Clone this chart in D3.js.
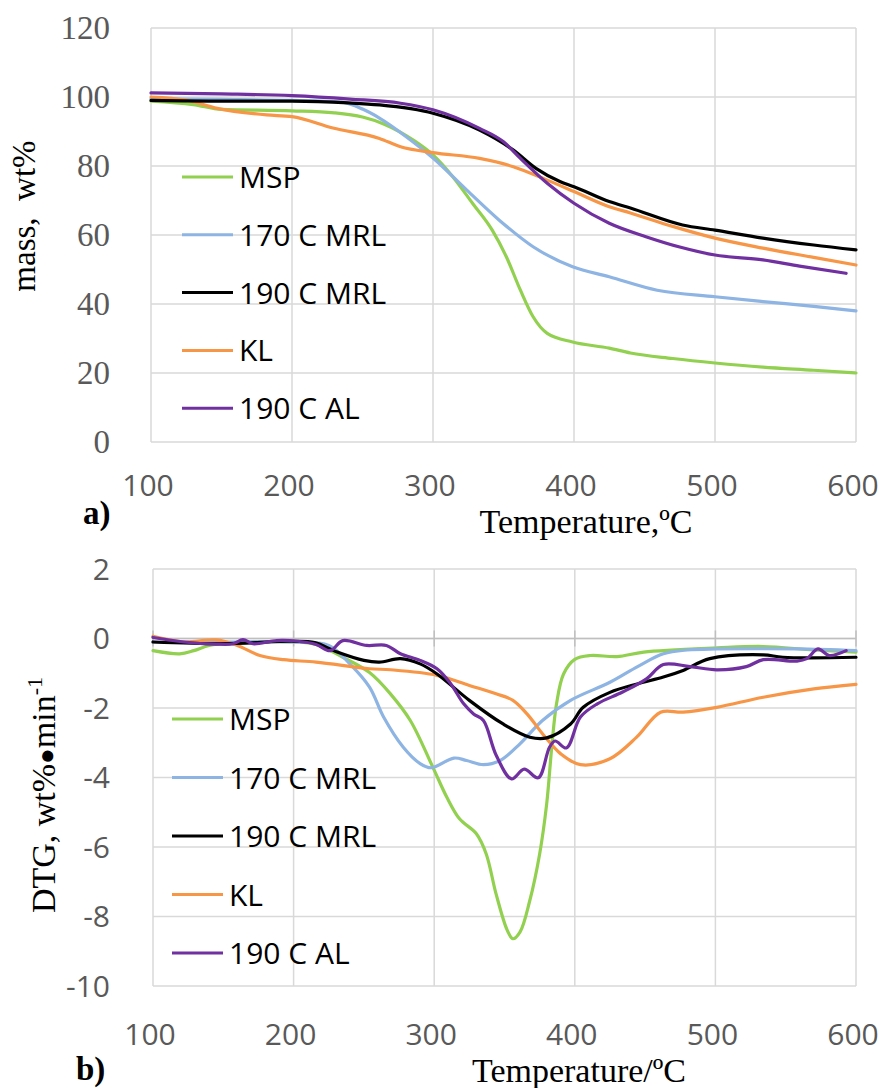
<!DOCTYPE html>
<html>
<head>
<meta charset="utf-8">
<script src="https://cdn.jsdelivr.net/npm/d3@7"></script>
<style>
  html, body { margin: 0; padding: 0; background: #fff; }
  svg { display: block; }
</style>
</head>
<body>
<svg id="chart" width="884" height="1088"></svg>
<script>
// ---------- DATA ----------
const seriesNames = ["MSP", "170 C MRL", "190 C MRL", "KL", "190 C AL"];
const seriesColors = ["#92d050", "#8db4e2", "#000000", "#f79646", "#7030a0"];

const xTicks = [100, 200, 300, 400, 500, 600];
const massTicks = [0, 20, 40, 60, 80, 100, 120];
const dtgTicks = [-10, -8, -6, -4, -2, 0, 2];

// (a) mass, wt% vs temperature  [T, value]
const massMSP = [[100,98.8],[130,97.8],[150,96.4],[200,96],[230,95.4],[250,94.2],[265,92.2],[286,87.5],[300,83.2],[314,76.9],[328,69.2],[342,61.4],[352,53.7],[362,44],[371,36.3],[381,31.5],[399,29],[425,27.2],[440,25.8],[470,24.2],[500,22.9],[534,21.7],[570,20.8],[600,20]];
const mass170MRL = [[100,99.5],[150,99.3],[200,99],[235,98.5],[250,96.5],[262,93.9],[281,88.5],[300,82.3],[324,73],[347,64.3],[371,56.6],[399,50.8],[425,47.9],[459,44],[500,42.1],[534,40.7],[570,39.3],[600,38]];
const mass190MRL = [[100,99],[150,98.8],[200,98.8],[240,98.3],[262,97.7],[300,95.3],[333,90.4],[357,84.6],[373,79.3],[390,75.5],[400,74],[425,69.7],[440,67.8],[477,62.9],[500,61.4],[534,59.1],[570,57.1],[600,55.7]];
const massKL = [[100,100],[125,99.1],[147,96.7],[182,94.8],[200,94.3],[229,91],[262,88],[277,85.6],[300,83.9],[333,82.2],[357,79.8],[381,75.9],[400,72.6],[425,68.2],[440,66.4],[470,62.5],[500,59.1],[534,56.2],[570,53.5],[600,51.3]];
const mass190AL = [[100,101.2],[150,100.9],[200,100.4],[241,99.4],[277,98.2],[300,96.3],[333,90.9],[350,87],[362,82.2],[381,75],[400,69.2],[425,63.4],[451,59.5],[475,56.5],[500,54.2],[534,52.8],[560,51],[593,48.9]];

// (b) DTG, wt%/min vs temperature  [T, value]
const dtgMSP = [[100,-0.35],[119,-0.44],[129,-0.35],[140,-0.2],[158,-0.13],[200,-0.1],[216,-0.17],[235,-0.54],[254,-0.98],[269,-1.6],[283,-2.36],[299,-3.7],[309,-4.57],[318,-5.19],[330,-5.62],[337,-6.2],[344,-7.35],[352,-8.4],[356,-8.64],[361,-8.45],[368,-7.54],[375,-6.2],[380,-4.76],[383.6,-3.13],[387,-1.88],[392,-1.02],[400,-0.6],[411,-0.49],[430,-0.52],[449,-0.39],[501,-0.27],[534,-0.23],[570,-0.33],[600,-0.39]];
const dtg170MRL = [[100,-0.1],[150,-0.1],[200,-0.1],[225,-0.2],[240,-0.73],[254,-1.4],[264,-2.26],[278,-3.13],[290,-3.6],[298,-3.72],[314,-3.44],[323,-3.51],[335,-3.63],[347,-3.51],[361,-3.03],[377,-2.36],[397,-1.78],[425,-1.26],[445,-0.8],[463,-0.44],[480,-0.33],[501,-0.3],[558,-0.3],[600,-0.35]];
const dtg190MRL = [[100,-0.1],[150,-0.15],[200,-0.08],[215,-0.12],[231,-0.39],[250,-0.63],[261,-0.68],[276,-0.58],[290,-0.73],[302,-1.02],[325,-1.78],[349,-2.46],[368,-2.84],[380,-2.86],[397,-2.46],[406,-1.98],[425,-1.55],[445,-1.3],[463,-1.11],[477,-0.92],[496,-0.58],[534,-0.47],[548,-0.54],[600,-0.54]];
const dtgKL = [[100,0.06],[122,-0.1],[145,-0.04],[160,-0.2],[176,-0.49],[193,-0.61],[216,-0.68],[254,-0.87],[269,-0.9],[302,-1.06],[325,-1.35],[344,-1.59],[356,-1.78],[366,-2.17],[378,-2.79],[390,-3.32],[404,-3.63],[425,-3.46],[444,-2.84],[461,-2.12],[477,-2.12],[501,-1.98],[534,-1.69],[570,-1.45],[600,-1.32]];
const dtg190AL = [[100,0.03],[122,-0.1],[145,-0.16],[157,-0.15],[164,-0.03],[171,-0.15],[188,-0.06],[203,-0.08],[216,-0.17],[226,-0.35],[235,-0.06],[252,-0.2],[266,-0.2],[276,-0.44],[290,-0.63],[302,-0.87],[311,-1.26],[321,-1.88],[328,-2.17],[335,-2.36],[344,-3.35],[355,-4.04],[364,-3.76],[374,-4.01],[382,-3.13],[386,-2.95],[394,-3.15],[404,-2.26],[416,-1.88],[434,-1.54],[451,-1.16],[463,-0.75],[482,-0.81],[501,-0.9],[522,-0.81],[534,-0.61],[558,-0.65],[565,-0.58],[573,-0.3],[581,-0.49],[593,-0.35]];

const massSeries = [massMSP, mass170MRL, mass190MRL, massKL, mass190AL];
const dtgSeries = [dtgMSP, dtg170MRL, dtg190MRL, dtgKL, dtg190AL];

// ---------- DRAW ----------
const svg = d3.select("#chart");
const GRID = "#d9d9d9";
const TICKC = "#595959";
const SANS = "'Open Sans', 'Noto Sans', sans-serif";
const SERIF = "'Liberation Serif', 'Times New Roman', serif";

function panel(cfg) {
  const x = d3.scaleLinear().domain([100, 600]).range(cfg.xr);
  const y = d3.scaleLinear().domain(cfg.yd).range(cfg.yr);
  const g = svg.append("g");

  // vertical grid
  g.selectAll(".vg").data(xTicks).join("line")
    .attr("x1", d => x(d)).attr("x2", d => x(d))
    .attr("y1", cfg.yr[0]).attr("y2", cfg.yr[1])
    .attr("stroke", GRID).attr("stroke-width", 1.5);
  // horizontal grid
  g.selectAll(".hg").data(cfg.ticks).join("line")
    .attr("x1", cfg.xr[0]).attr("x2", cfg.xr[1])
    .attr("y1", d => y(d)).attr("y2", d => y(d))
    .attr("stroke", GRID).attr("stroke-width", 1.5);

  if (cfg.zeroAxis) {
    g.append("line")
      .attr("x1", cfg.xr[0]).attr("x2", cfg.xr[1])
      .attr("y1", y(0)).attr("y2", y(0))
      .attr("stroke", "#bfbfbf").attr("stroke-width", 1.5);
    g.selectAll(".tk").data(xTicks).join("line")
      .attr("x1", d => x(d)).attr("x2", d => x(d))
      .attr("y1", y(0) - 8).attr("y2", y(0) + 8)
      .attr("stroke", "#bfbfbf").attr("stroke-width", 1.5);
  }

  // y tick labels
  g.selectAll(".yl").data(cfg.ticks).join("text")
    .attr("x", 110).attr("y", d => y(d) + cfg.yLabShift)
    .attr("text-anchor", "end")
    .attr("font-family", cfg.yFont).attr("font-size", cfg.yFontSize)
    .attr("fill", TICKC)
    .text(d => d3.format("d")(d).replace("−", "-"));

  // x tick labels
  g.selectAll(".xl").data(xTicks).join("text")
    .attr("x", d => x(d) - 3).attr("y", cfg.xLabY)
    .attr("text-anchor", "middle")
    .attr("font-family", SANS).attr("font-size", 30)
    .attr("fill", TICKC)
    .text(d => d);

  // lines
  const line = d3.line().x(d => x(d[0])).y(d => y(d[1])).curve(cfg.curve);
  const order = [0, 1, 3, 2, 4];
  order.forEach(i => {
    g.append("path").datum(cfg.series[i])
      .attr("d", line)
      .attr("fill", "none")
      .attr("stroke", seriesColors[i])
      .attr("stroke-width", 3.2)
      .attr("stroke-linejoin", "round")
      .attr("stroke-linecap", "round");
  });

  // legend
  const lg = g.append("g");
  seriesNames.forEach((name, i) => {
    const ly = cfg.legY0 + i * cfg.legStep;
    lg.append("line")
      .attr("x1", cfg.legX).attr("x2", cfg.legX + 51)
      .attr("y1", ly).attr("y2", ly)
      .attr("stroke", seriesColors[i]).attr("stroke-width", 3);
    lg.append("text")
      .attr("x", cfg.legX + 57).attr("y", ly + 11)
      .attr("font-family", SANS).attr("font-size", 30)
      .attr("fill", "#000")
      .text(name);
  });
  return { x, y };
}

// (a)
panel({
  xr: [151, 856], yd: [0, 120], yr: [442, 28], ticks: massTicks,
  yFont: SERIF, yFontSize: 33, yLabShift: 11,
  xLabY: 496, series: massSeries, curve: d3.curveMonotoneX,
  legX: 182, legY0: 177, legStep: 57.8, zeroAxis: false
});
// (b)
panel({
  xr: [153, 856], yd: [-10, 2], yr: [986, 569], ticks: dtgTicks,
  yFont: SANS, yFontSize: 30, yLabShift: 10.5,
  xLabY: 1045, series: dtgSeries, curve: d3.curveCatmullRom.alpha(0.5),
  legX: 172, legY0: 719, legStep: 58.5, zeroAxis: true
});

// axis titles
svg.append("text")
  .attr("transform", "translate(35,216) rotate(-90)")
  .attr("text-anchor", "middle")
  .attr("font-family", SERIF).attr("font-size", 33)
  .attr("fill", "#000")
  .style("white-space", "pre")
  .text("mass,  wt%");

const dt = svg.append("text")
  .attr("transform", "translate(55,795) rotate(-90)")
  .attr("text-anchor", "middle")
  .attr("font-family", SERIF).attr("font-size", 34)
  .attr("fill", "#000");
dt.append("tspan").text("DTG, wt%");
dt.append("tspan").attr("font-size", 26).text("●");
dt.append("tspan").text("min");
dt.append("tspan").attr("font-size", 22).attr("dy", -13).text("-1");

svg.append("text")
  .attr("x", 586).attr("y", 533)
  .attr("text-anchor", "middle")
  .attr("font-family", SERIF).attr("font-size", 34)
  .attr("fill", "#000")
  .text("Temperature,ºC");
svg.append("text")
  .attr("x", 579).attr("y", 1082)
  .attr("text-anchor", "middle")
  .attr("font-family", SERIF).attr("font-size", 34)
  .attr("fill", "#000")
  .text("Temperature/ºC");

svg.append("text")
  .attr("x", 83).attr("y", 524)
  .attr("font-family", SERIF).attr("font-size", 33).attr("font-weight", "bold")
  .attr("fill", "#000").text("a)");
svg.append("text")
  .attr("x", 76).attr("y", 1080)
  .attr("font-family", SERIF).attr("font-size", 33).attr("font-weight", "bold")
  .attr("fill", "#000").text("b)");
</script>
</body>
</html>
